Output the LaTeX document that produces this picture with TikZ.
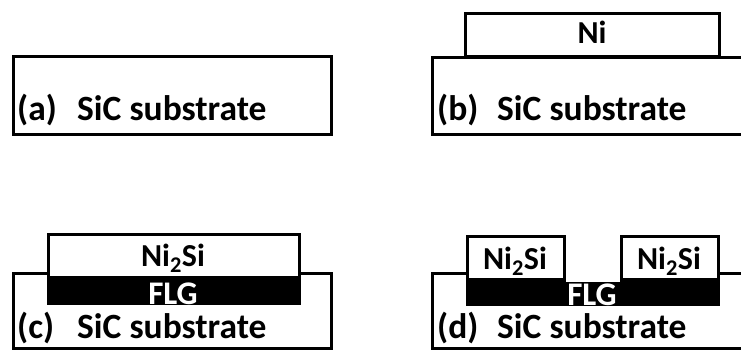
\documentclass[tikz,border=0pt]{standalone}
\usepackage{fontspec}
\setmainfont{Carlito}
\begin{document}
\begin{tikzpicture}[x=1pt,y=-1pt,
  layer/.style={draw=black,line width=3pt,fill=white,line join=miter},
  flg/.style={fill=black},
  big/.style={font=\fontsize{35.5}{40}\selectfont\bfseries,inner sep=0pt},
  mid/.style={font=\fontsize{32}{36}\selectfont\bfseries,inner sep=0pt},
  flgtext/.style={font=\fontsize{33}{36}\selectfont\bfseries,inner sep=0pt,text=white}]
\useasboundingbox (0,0) rectangle (741,349);
\clip (0,0) rectangle (741,349);
% (a)
\draw[layer] (13,56) rectangle (331,134);
\node[big,anchor=base west] (la) at (17,120) {(a)};
\node[big,anchor=base west] (sa) at (77,120) {SiC substrate};
% (b)
\draw[layer] (465,13) rectangle (719,56);
\draw[layer] (745,57) -- (432,57) -- (432,134) -- (745,134);
\node[mid,anchor=base] (ni) at (592,43) {Ni};
\node[big,anchor=base west] (lb) at (437,120) {(b)};
\node[big,anchor=base west] (sb) at (497,120) {SiC substrate};
% (c)
\draw[layer] (13,273) rectangle (331,348);
\draw[layer] (48,234) rectangle (299,277);
\fill[flg] (46.5,277) rectangle (300.5,305);
\node[mid,anchor=base] (nic) at (173,266) {Ni\textsubscript{2}Si};
\node[flgtext,anchor=base] (flgc) at (173,304) {FLG};
\node[big,anchor=base west] (lc) at (17,338) {(c)};
\node[big,anchor=base west] (sc) at (77,338) {SiC substrate};
% (d)
\draw[layer] (745,273) -- (432,273) -- (432,348) -- (745,348);
\fill[white] (467,236) rectangle (718,282);
\draw[layer] (467,236) rectangle (564,279);
\draw[layer] (621,236) rectangle (718,279);
\fill[flg] (465.5,279) rectangle (719.5,306);
\fill[white] (565.5,262) rectangle (619.5,282);
\node[mid,anchor=base] (nid1) at (515,269) {Ni\textsubscript{2}Si};
\node[mid,anchor=base] (nid2) at (669,269) {Ni\textsubscript{2}Si};
\node[flgtext,anchor=base] (flgd) at (592,305) {FLG};
\node[big,anchor=base west] (ld) at (437,338) {(d)};
\node[big,anchor=base west] (sd) at (497,338) {SiC substrate};
\end{tikzpicture}
\end{document}
